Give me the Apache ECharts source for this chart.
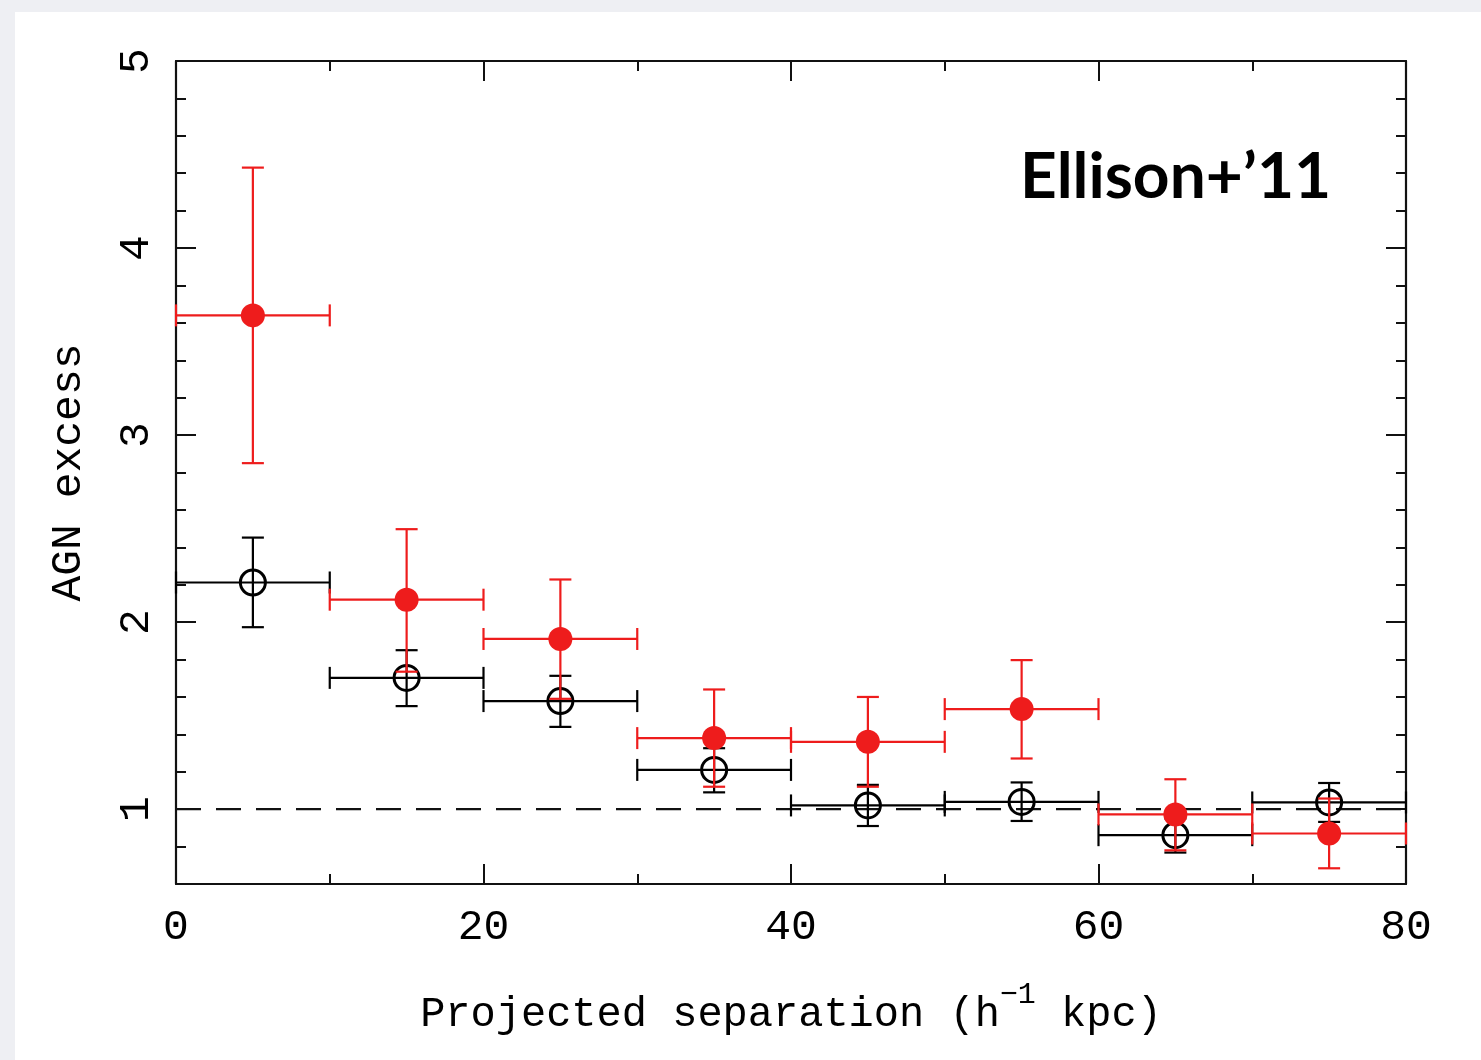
<!DOCTYPE html>
<html>
<head>
<meta charset="utf-8">
<script src="https://cdn.jsdelivr.net/npm/echarts@6/dist/echarts.min.js"></script>
<style>
  html, body { margin: 0; padding: 0; background: #eeeff3; }
  #chart { width: 1481px; height: 1060px; }
</style>
</head>
<body>
<div id="chart"></div>
<script>
// Separation bins (h^-1 kpc)
const binLo = [0, 10, 20, 30, 40, 50, 60, 70];
const binHi = [10, 20, 30, 40, 50, 60, 70, 80];
const binMid = [5, 15, 25, 35, 45, 55, 65, 75];

// Filled red points: AGN excess with lower/upper error
const redY  = [3.64, 2.12, 1.91, 1.38, 1.36, 1.535, 0.972, 0.87];
const redLo = [2.85, 1.735, 1.59, 1.12, 1.12, 1.271, 0.78, 0.684];
const redHi = [4.43, 2.497, 2.228, 1.64, 1.60, 1.797, 1.16, 1.057];

// Open black points
const blkY  = [2.212, 1.702, 1.578, 1.21, 1.02, 1.039, 0.861, 1.036];
const blkLo = [1.973, 1.551, 1.44, 1.09, 0.91, 0.937, 0.768, 0.932];
const blkHi = [2.452, 1.85, 1.713, 1.326, 1.13, 1.143, 0.95, 1.14];

// Axis ticks
const xTickMajor = [0, 20, 40, 60, 80];
const yTickMajor = [1, 2, 3, 4, 5];
const yTickMinor = [0.8, 1.2, 1.4, 1.6, 1.8, 2.2, 2.4, 2.6, 2.8, 3.2, 3.4, 3.6, 3.8, 4.2, 4.4, 4.6, 4.8];
const refLevel = 1;

const MONO = '"Liberation Mono", "DejaVu Sans Mono", monospace';
const AXIS_COLOR = '#111';
const RED = '#ee1c1c';

function rows(y, lo, hi) {
  return binMid.map((x, i) => [x, y[i], binLo[i], binHi[i], lo[i], hi[i]]);
}

function errorBars(color, filled) {
  return function (params, api) {
    const x = api.value(0), y = api.value(1);
    const c = api.coord([x, y]);
    const pl = api.coord([api.value(2), y]);
    const ph = api.coord([api.value(3), y]);
    const yl = api.coord([x, api.value(4)]);
    const yh = api.coord([x, api.value(5)]);
    const cap = 11;
    const ls = { stroke: color, lineWidth: 2.2 };
    const line = (x1, y1, x2, y2) => ({ type: 'line', shape: { x1, y1, x2, y2 }, style: ls });
    const kids = [
      line(pl[0], c[1], ph[0], c[1]),
      line(pl[0], c[1] - cap, pl[0], c[1] + cap),
      line(ph[0], c[1] - cap, ph[0], c[1] + cap),
      line(c[0], yl[1], c[0], yh[1]),
      line(c[0] - cap, yl[1], c[0] + cap, yl[1]),
      line(c[0] - cap, yh[1], c[0] + cap, yh[1])
    ];
    if (filled) {
      kids.push({ type: 'circle', shape: { cx: c[0], cy: c[1], r: 12 }, style: { fill: color } });
    } else {
      kids.push({ type: 'circle', shape: { cx: c[0], cy: c[1], r: 12.5 }, style: { fill: 'none', stroke: color, lineWidth: 3 } });
    }
    return { type: 'group', children: kids };
  };
}

function yAxisDef(position, ticks, len, withLine, withLabel) {
  return {
    type: 'value', position, min: 0.6, max: 5,
    axisLine: { show: withLine, lineStyle: { color: AXIS_COLOR, width: 2.2 } },
    axisTick: { show: true, inside: true, length: len, customValues: ticks, lineStyle: { color: AXIS_COLOR, width: 2 } },
    axisLabel: withLabel ? {
      show: true, customValues: yTickMajor, rotate: 90, margin: 18,
      fontFamily: MONO, fontSize: 43, color: '#000'
    } : { show: false },
    splitLine: { show: false }
  };
}

function xAxisDef(position, withLabel) {
  return {
    type: 'value', position, min: 0, max: 80, interval: 20,
    axisLine: { show: true, lineStyle: { color: AXIS_COLOR, width: 2.2 } },
    axisTick: { show: true, inside: true, length: 20, lineStyle: { color: AXIS_COLOR, width: 2 } },
    minorTick: { show: true, splitNumber: 2, length: 10, lineStyle: { color: AXIS_COLOR, width: 2 } },
    axisLabel: withLabel ? {
      show: true, customValues: xTickMajor, margin: 22,
      fontFamily: MONO, fontSize: 43, color: '#000'
    } : { show: false },
    splitLine: { show: false }
  };
}

const chart = echarts.init(document.getElementById('chart'), null, { renderer: 'canvas' });

const bottomX = xAxisDef('bottom', true);
bottomX.name = '{a|Projected separation (h}{s|\u22121}{a| kpc)}';
bottomX.nameLocation = 'middle';
bottomX.nameGap = 96;
bottomX.nameTextStyle = {
  rich: {
    a: { fontFamily: MONO, fontSize: 42, color: '#000' },
    s: { fontFamily: MONO, fontSize: 30, color: '#000', padding: [0, 0, 40, 0] }
  }
};

const leftY = yAxisDef('left', yTickMajor, 20, true, true);
leftY.name = 'AGN excess';
leftY.nameLocation = 'middle';
leftY.nameRotate = 90;
leftY.nameGap = 86;
leftY.nameTextStyle = { fontFamily: MONO, fontSize: 43, color: '#000' };

chart.setOption({
  animation: false,
  backgroundColor: '#eeeff3',
  graphic: [
    { type: 'rect', left: 15, top: 12, z: -100, shape: { width: 1466, height: 1048 }, style: { fill: '#ffffff' } },
    { type: 'text', left: 1020, top: 145, z: 10,
      style: { text: 'Ellison+\u201911', fill: '#000', font: 'bold 64px Lato, "Open Sans", sans-serif' } }
  ],
  grid: { left: 176, top: 61, right: 75, bottom: 176, containLabel: false },
  xAxis: [bottomX, xAxisDef('top', false)],
  yAxis: [
    leftY,
    yAxisDef('left', yTickMinor, 10, false, false),
    yAxisDef('right', yTickMajor, 20, true, false),
    yAxisDef('right', yTickMinor, 10, false, false)
  ],
  series: [
    {
      type: 'line', xAxisIndex: 0, yAxisIndex: 0, symbol: 'none', silent: true, z: 1,
      data: [[0, refLevel], [80, refLevel]],
      lineStyle: { color: '#111', width: 2.2, type: [25, 15] }
    },
    {
      type: 'custom', xAxisIndex: 0, yAxisIndex: 0, z: 2,
      renderItem: errorBars('#000', false),
      data: rows(blkY, blkLo, blkHi)
    },
    {
      type: 'custom', xAxisIndex: 0, yAxisIndex: 0, z: 3,
      renderItem: errorBars(RED, true),
      data: rows(redY, redLo, redHi)
    }
  ]
});
</script>
</body>
</html>
